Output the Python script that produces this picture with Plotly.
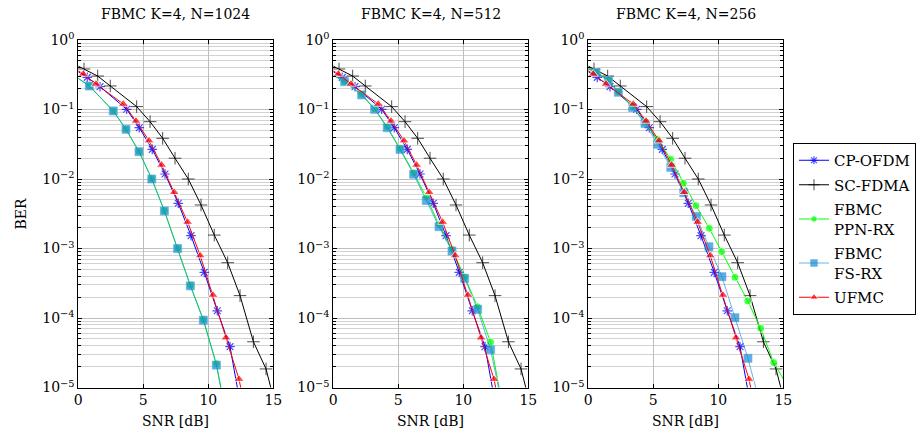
import plotly.graph_objects as go

# ---------------- data ----------------
titles = ["FBMC K=4, N=1024", "FBMC K=4, N=512", "FBMC K=4, N=256"]
series_names = ["CP-OFDM", "SC-FDMA", "FBMC<br>PPN-RX", "FBMC<br>FS-RX", "UFMC"]
y_tickvals = [1, 1e-1, 1e-2, 1e-3, 1e-4, 1e-5]
y_ticktext = ["10<sup>0</sup>", "10<sup>−1</sup>", "10<sup>−2</sup>", "10<sup>−3</sup>",
              "10<sup>−4</sup>", "10<sup>−5</sup>"]
x_tickvals = [0, 5, 10, 15]

# SC-FDMA (same in all panels)
sc_x = [0, 0.44, 1.49, 2.46, 4.49, 5.52, 6.49, 7.44, 8.46, 9.44, 10.46, 11.49, 12.44, 13.47, 14.44, 15.0]
sc_y = [0.42, 0.383, 0.303, 0.218, 0.11, 0.0668, 0.0385, 0.0199, 0.0100, 0.00423, 0.00156,
        0.000625, 0.00021, 4.55e-5, 1.85e-5, 7.2e-6]
sc_mk = [0] + [1] * 14 + [0]

# CP-OFDM (same in all panels)
cp_x = [0, 0.69, 1.67, 3.72, 4.69, 5.69, 6.67, 7.69, 8.67, 9.69, 10.69, 11.67, 12.67]
cp_y = [0.35, 0.29, 0.213, 0.1007, 0.0547, 0.0267, 0.0118, 0.00447, 0.00153, 0.000454,
        0.000127, 3.87e-5, 3.5e-6]
cp_mk = [0] + [1] * 11 + [0]

# UFMC (same in all panels)
uf_x = [0, 0.38, 1.36, 3.46, 4.44, 5.44, 6.41, 7.38, 8.41, 9.38, 10.36, 11.36, 12.36, 13.36]
uf_y = [0.36, 0.324, 0.233, 0.12, 0.0684, 0.0356, 0.0159, 0.00645, 0.0024, 0.000791,
        0.000214, 5.2e-5, 1.32e-5, 1.6e-6]
uf_mk = [0] + [1] * 12 + [0]

# FBMC FS-RX per panel
fs_x_1024 = [0, 0.85, 2.69, 3.67, 4.67, 5.65, 6.62, 7.64, 8.62, 9.62, 10.62, 11.62]
fs_y_1024 = [0.28, 0.218, 0.0953, 0.0519, 0.0247, 0.0100, 0.00347, 0.00100, 0.00029, 9.3e-5,
             2.1e-5, 2.2e-6]
fs_x_512 = [0, 0.87, 2.18, 3.18, 4.15, 5.13, 6.18, 7.15, 8.13, 9.13, 10.1, 11.1, 12.1, 13.1]
fs_y_512 = [0.31, 0.251, 0.162, 0.1007, 0.0547, 0.0267, 0.0117, 0.0049, 0.00206, 0.00092,
            0.000372, 0.000133, 3.5e-5, 4.4e-6]
fs_x_256 = [0, 0.59, 1.54, 2.31, 3.41, 4.36, 5.34, 6.34, 7.34, 8.31, 9.28, 10.28, 11.28, 12.28, 13.28]
fs_y_256 = [0.38, 0.339, 0.26, 0.177, 0.107, 0.063, 0.0316, 0.0147, 0.00635, 0.00288, 0.00106,
            0.000393, 0.000101, 2.63e-5, 5.2e-6]

# FBMC PPN-RX per panel
pp_x_1024 = [0, 0.85, 2.69, 3.67, 4.67, 5.65, 6.62, 7.64, 8.62, 9.62, 10.62, 11.62]
pp_y_1024 = [0.28, 0.218, 0.0953, 0.0519, 0.0248, 0.0101, 0.00350, 0.00101, 0.000295, 9.5e-5,
             2.2e-5, 2.4e-6]
pp_x_512 = [0, 0.87, 2.18, 3.18, 4.15, 5.13, 6.18, 7.15, 8.13, 9.13, 10.1, 11.1, 12.1, 13.1]
pp_y_512 = [0.31, 0.251, 0.165, 0.103, 0.056, 0.0275, 0.0122, 0.0055, 0.0022, 0.00097,
            0.00039, 0.000145, 4.5e-5, 4.5e-6]
pp_x_256 = [0, 0.59, 1.54, 2.31, 3.41, 4.36, 5.34, 6.34, 7.31, 8.28, 9.31, 10.26, 11.28, 12.26,
            13.26, 14.26, 15.26]
pp_y_256 = [0.39, 0.345, 0.265, 0.18, 0.11, 0.065, 0.0373, 0.0192, 0.0087, 0.00413, 0.00195,
            0.0009, 0.000385, 0.000176, 7.1e-5, 2.28e-5, 1.1e-5]

panels = [
    (fs_x_1024, fs_y_1024, pp_x_1024, pp_y_1024),
    (fs_x_512, fs_y_512, pp_x_512, pp_y_512),
    (fs_x_256, fs_y_256, pp_x_256, pp_y_256),
]

# ---------------- styling ----------------
W, H = 921, 438
FONT = "DejaVu Serif"
x_px = [(78.3, 273.3), (333.3, 528.3), (588.3, 783.3)]
y_px = (40.0, 387.5)
ydom = [1 - y_px[1] / H, 1 - y_px[0] / H]

C_CP = "#0000ff"
C_SC = "#000000"
C_PP = "#00ff00"
C_FS = "#1a8ad6"
C_FS_LINE = "rgba(26,138,214,0.65)"
C_UF = "#ff0000"


def sizes(mask, s):
    return [s if m else 0 for m in mask]


fig = go.Figure()

for i, (fx, fy, px, py) in enumerate(panels):
    xa = "x" if i == 0 else f"x{i+1}"
    ya = "y" if i == 0 else f"y{i+1}"
    show = i == 0
    pp_mk = [0] + [1] * (len(px) - 2) + [0]
    fs_mk = [0] + [1] * (len(fx) - 2) + [0]

    fig.add_trace(go.Scatter(
        x=cp_x, y=cp_y, mode="lines+markers", name=series_names[0], legendgroup="cp",
        showlegend=show, xaxis=xa, yaxis=ya,
        line=dict(color=C_CP, width=1),
        marker=dict(symbol="asterisk-open", size=sizes(cp_mk, 8), color=C_CP,
                    line=dict(color=C_CP, width=1.2))))
    fig.add_trace(go.Scatter(
        x=sc_x, y=sc_y, mode="lines+markers", name=series_names[1], legendgroup="sc",
        showlegend=show, xaxis=xa, yaxis=ya,
        line=dict(color=C_SC, width=1),
        marker=dict(symbol="cross-thin-open", size=sizes(sc_mk, 9), color=C_SC,
                    line=dict(color=C_SC, width=1))))
    fig.add_trace(go.Scatter(
        x=px, y=py, mode="lines+markers", name=series_names[2], legendgroup="pp",
        showlegend=show, xaxis=xa, yaxis=ya,
        line=dict(color=C_PP, width=1),
        marker=dict(symbol="circle", size=sizes(pp_mk, 8), color=C_PP)))
    fig.add_trace(go.Scatter(
        x=fx, y=fy, mode="lines+markers", name=series_names[3], legendgroup="fs",
        showlegend=show, xaxis=xa, yaxis=ya,
        line=dict(color=C_FS_LINE, width=1),
        marker=dict(symbol="square", size=sizes(fs_mk, 8), color=C_FS)))
    fig.add_trace(go.Scatter(
        x=uf_x, y=uf_y, mode="lines+markers", name=series_names[4], legendgroup="uf",
        showlegend=show, xaxis=xa, yaxis=ya,
        line=dict(color=C_UF, width=1),
        marker=dict(symbol="triangle-up", size=sizes(uf_mk, 9), color=C_UF)))

layout = dict(
    width=W, height=H,
    margin=dict(l=0, r=0, t=0, b=0, autoexpand=False),
    paper_bgcolor="white", plot_bgcolor="white",
    font=dict(family=FONT, size=14, color="black"),
    showlegend=True,
    legend=dict(x=793 / W, y=1 - 143 / H, xanchor="left", yanchor="top",
                bordercolor="black", borderwidth=1, bgcolor="white",
                font=dict(family=FONT, size=15), tracegroupgap=2,
                itemwidth=30),
)

annotations = []
for i in range(3):
    sfx = "" if i == 0 else str(i + 1)
    x0, x1 = x_px[i]
    layout["xaxis" + sfx] = dict(
        domain=[x0 / W, x1 / W], range=[0, 15], anchor="y" + sfx, automargin=False,
        tickvals=x_tickvals, ticks="inside", ticklen=4, tickcolor="black",
        showline=True, linecolor="black", linewidth=1, mirror="allticks",
        showgrid=True, gridcolor="#bdbdbd", gridwidth=1, zeroline=False,
        tickfont=dict(family=FONT, size=14),
    )
    layout["yaxis" + sfx] = dict(
        domain=ydom, type="log", range=[-5, 0], anchor="x" + sfx, automargin=False,
        tickvals=y_tickvals, ticktext=y_ticktext, ticks="inside", ticklen=4,
        tickcolor="black",
        showline=True, linecolor="black", linewidth=1, mirror="allticks",
        showgrid=True, gridcolor="#bdbdbd", gridwidth=1, zeroline=False,
        tickfont=dict(family=FONT, size=14),
        minor=dict(dtick="D1", ticks="inside", ticklen=3, tickcolor="black",
                   showgrid=True, gridcolor="#d2d2d2", gridwidth=1),
    )
    cx = (x0 + x1) / 2 / W
    annotations.append(dict(text=titles[i], x=cx, y=1 - 14 / H, xref="paper", yref="paper",
                            xanchor="center", yanchor="middle", showarrow=False,
                            font=dict(family=FONT, size=14)))
    annotations.append(dict(text="SNR [dB]", x=cx, y=1 - 421 / H, xref="paper", yref="paper",
                            xanchor="center", yanchor="middle", showarrow=False,
                            font=dict(family=FONT, size=14)))

annotations.append(dict(text="BER", x=20 / W, y=1 - 213.5 / H, xref="paper", yref="paper",
                        xanchor="center", yanchor="middle", textangle=-90, showarrow=False,
                        font=dict(family=FONT, size=14)))
layout["annotations"] = annotations

fig.update_layout(**layout)
fig.write_html("out.html", config={"displayModeBar": False},
               post_script="document.body.style.margin='0px';document.body.style.overflow='hidden';")
